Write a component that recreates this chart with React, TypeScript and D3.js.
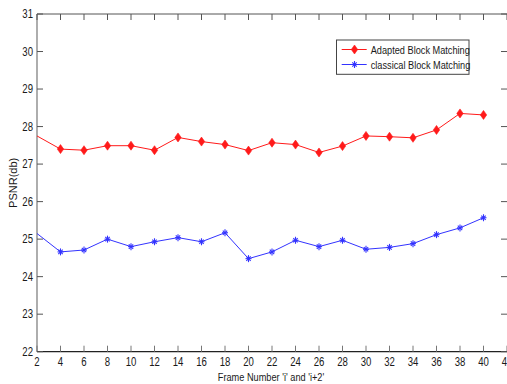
import React from "react";
import * as d3 from "d3";

const frames = [2, 4, 6, 8, 10, 12, 14, 16, 18, 20, 22, 24, 26, 28, 30, 32, 34, 36, 38, 40];
const adapted = [27.75, 27.4, 27.37, 27.49, 27.49, 27.37, 27.71, 27.6, 27.52, 27.36, 27.57, 27.52, 27.31, 27.48, 27.75, 27.73, 27.7, 27.91, 28.35, 28.31];
const classical = [25.15, 24.66, 24.71, 25.0, 24.8, 24.93, 25.04, 24.93, 25.17, 24.48, 24.66, 24.97, 24.8, 24.97, 24.73, 24.78, 24.88, 25.12, 25.3, 25.57];
const xTicks = [2, 4, 6, 8, 10, 12, 14, 16, 18, 20, 22, 24, 26, 28, 30, 32, 34, 36, 38, 40, 42];
const yTicks = [22, 23, 24, 25, 26, 27, 28, 29, 30, 31];
const seriesNames = ["Adapted Block Matching", "classical Block Matching"];

const FONT = "'Liberation Sans', Arial, sans-serif";
const SX = 0.8;

function CText(props: { x: number; y: number; anchor?: string; size: number; children: React.ReactNode }) {
  return (
    <text
      transform={`translate(${props.x},${props.y}) scale(${SX},1)`}
      textAnchor={props.anchor || "start"}
      fontFamily={FONT}
      fontSize={props.size}
      fill="#1a1a1a"
    >
      {props.children}
    </text>
  );
}

export default function App() {
  const W = 507, H = 384;
  const left = 37, right = 507, top = 14, bottom = 351.7;
  const x = d3.scaleLinear().domain([2, 42]).range([left, right]);
  const y = d3.scaleLinear().domain([22, 31]).range([bottom, top]);
  const line = d3.line<number>().x((_, i) => x(frames[i])).y((d) => y(d));
  const tick = 6;
  const red = "#ff1a1a";
  const blue = "#3333ff";

  const diamond = (cx: number, cy: number, c: string, k: string) => (
    <path key={k} d={`M${cx},${cy - 4.5}L${cx + 3.2},${cy}L${cx},${cy + 4.5}L${cx - 3.2},${cy}Z`} fill={c} stroke={c} strokeWidth={0.6} />
  );
  const star = (cx: number, cy: number, c: string, k: string) => (
    <g key={k} stroke={c} strokeWidth={1.1}>
      <line x1={cx - 3} y1={cy} x2={cx + 3} y2={cy} />
      <line x1={cx} y1={cy - 3.5} x2={cx} y2={cy + 3.5} />
      <line x1={cx - 2.2} y1={cy - 2.2} x2={cx + 2.2} y2={cy + 2.2} />
      <line x1={cx - 2.2} y1={cy + 2.2} x2={cx + 2.2} y2={cy - 2.2} />
    </g>
  );

  return (
    <svg width={W} height={H} style={{ position: "absolute", left: 0, top: 0, background: "#fff" }}>
      <rect x={0} y={0} width={W} height={H} fill="#fff" />
      <line x1={left} y1={top} x2={right} y2={top} stroke="#555" strokeWidth={1} />
      <line x1={left} y1={top} x2={left} y2={bottom} stroke="#777" strokeWidth={1.2} />
      <line x1={left} y1={bottom} x2={right} y2={bottom} stroke="#222" strokeWidth={1.2} />
      {xTicks.map((t) => (
        <g key={"xt" + t}>
          <line x1={x(t)} y1={bottom} x2={x(t)} y2={bottom - tick} stroke="#777" />
          <line x1={x(t)} y1={top} x2={x(t)} y2={top + tick} stroke="#555" />
          <CText x={x(t)} y={365.5} anchor="middle" size={12}>{t}</CText>
        </g>
      ))}
      {yTicks.map((t) => (
        <g key={"yt" + t}>
          <line x1={left} y1={y(t)} x2={left + tick} y2={y(t)} stroke="#555" />
          <line x1={right - tick} y1={y(t)} x2={right} y2={y(t)} stroke="#555" />
          <CText x={33} y={y(t) + 4.2} anchor="end" size={12}>{t}</CText>
        </g>
      ))}
      <CText x={271} y={381} anchor="middle" size={11.5}>Frame Number 'i' and 'i+2'</CText>
      <text transform={`translate(17,${(top + bottom) / 2}) rotate(-90)`} textAnchor="middle" fontFamily={FONT} fontSize={11} fill="#1a1a1a">PSNR(db)</text>

      <path d={line(adapted) || ""} fill="none" stroke={red} strokeWidth={1} />
      {adapted.map((v, i) => (i === 0 ? null : diamond(x(frames[i]), y(v), red, "a" + i)))}
      <path d={line(classical) || ""} fill="none" stroke={blue} strokeWidth={1} />
      {classical.map((v, i) => (i === 0 ? null : star(x(frames[i]), y(v), blue, "c" + i)))}

      <rect x={336.5} y={40} width={132.5} height={34.3} fill="#fff" stroke="#444" strokeWidth={1} />
      <line x1={341.7} y1={49.5} x2={366.7} y2={49.5} stroke={red} />
      {diamond(354.5, 49.5, red, "la")}
      <CText x={370.7} y={53.5} size={11.5}>{seriesNames[0]}</CText>
      <line x1={341.7} y1={64.5} x2={366.7} y2={64.5} stroke={blue} />
      {star(354.5, 64.5, blue, "lc")}
      <CText x={370.7} y={68.5} size={11.5}>{seriesNames[1]}</CText>
    </svg>
  );
}
